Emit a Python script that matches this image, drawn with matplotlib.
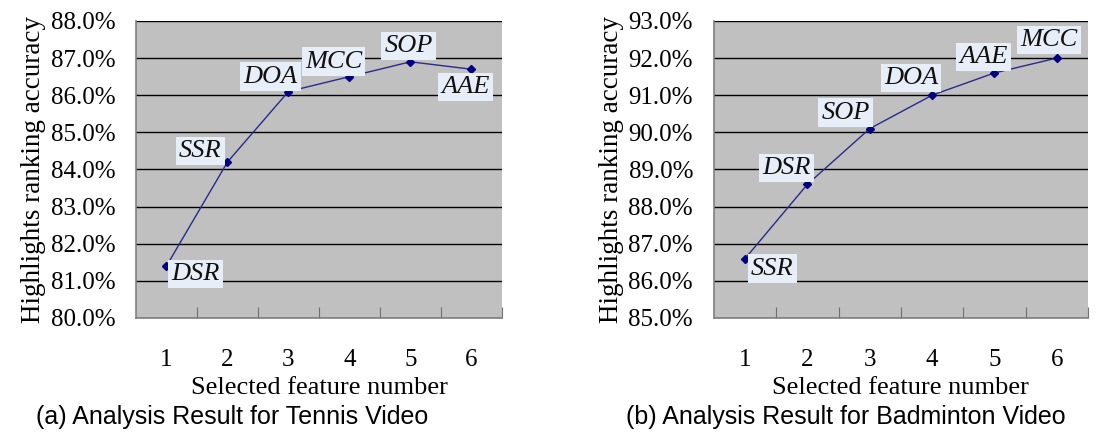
import numpy as np
import matplotlib
matplotlib.use('Agg')
import matplotlib.pyplot as plt
from matplotlib.ticker import FuncFormatter

# Дані
features = [1, 2, 3, 4, 5, 6]

tennis_acc = [81.4, 84.2, 86.1, 86.5, 86.9, 86.7]
tennis_names = ['DSR', 'SSR', 'DOA', 'MCC', 'SOP', 'AAE']
# зсув підписів (в пікселях) відносно точок
tennis_offsets = [(29, -8), (-27, 11), (-18, 15), (-16, 15), (-2, 16), (-6, -18)]

badminton_acc = [86.6, 88.6, 90.1, 91.0, 91.6, 92.0]
badminton_names = ['SSR', 'DSR', 'SOP', 'DOA', 'AAE', 'MCC']
badminton_offsets = [(27, -10), (-21, 16), (-24, 16), (-21, 17), (-11, 16), (-8, 18)]

serif = 'Liberation Serif'
sans = 'Liberation Sans'
px = 72 / 100  # пікселі -> точки


def draw_panel(ax, acc, names, offsets, ylo, yhi):
    ax.set_facecolor('#c0c0c0')
    ax.plot(features, acc, color='#2a2a8a', linewidth=1.0, marker='D',
            markersize=4.5, markerfacecolor='#000080', markeredgecolor='#000080',
            zorder=3)
    for x, y, name, (dx, dy) in zip(features, acc, names, offsets):
        ax.annotate(name, (x, y), xytext=(dx * px, dy * px), textcoords='offset points',
                    ha='center', va='center', fontsize=19, fontstyle='italic',
                    family=serif, color='#111111',
                    bbox=dict(boxstyle='square,pad=0.12', facecolor='#e8eef8',
                              edgecolor='none'), zorder=4)

    ax.set_xlim(features[0] - 0.5, features[-1] + 0.5)
    ax.set_ylim(ylo, yhi)
    ax.set_yticks(np.arange(ylo, yhi + 0.5, 1.0))
    ax.yaxis.set_major_formatter(FuncFormatter(lambda v, p: f'{v:.1f}%'))
    ax.tick_params(axis='y', length=0, pad=15, labelsize=18)
    for lab in ax.get_yticklabels():
        lab.set_family(serif)

    # мітки між категоріями, підписи по центру
    ax.set_xticks([f + 0.5 for f in features])
    ax.set_xticklabels([])
    ax.set_xticks(features, minor=True)
    ax.set_xticklabels([str(f) for f in features], minor=True, family=serif, fontsize=18)
    ax.tick_params(axis='x', which='major', direction='in', length=8, color='#707070')
    ax.tick_params(axis='x', which='minor', length=0, pad=22)

    ax.yaxis.grid(True, color='black', linewidth=1.0)
    ax.set_axisbelow(True)
    for s in ['top', 'right']:
        ax.spines[s].set_visible(False)
    for s in ['left', 'bottom']:
        ax.spines[s].set_color('#808080')
        ax.spines[s].set_linewidth(1.2)

    ax.set_xlabel('Selected feature number', family=serif, fontsize=19, labelpad=5)
    ax.set_ylabel('Highlights ranking accuracy', family=serif, fontsize=19.5, labelpad=3)


fig = plt.figure(figsize=(11, 4.33), dpi=100)
ax1 = fig.add_axes([0.1236, 0.2656, 0.3327, 0.686])
ax2 = fig.add_axes([0.649, 0.2656, 0.340, 0.686])

draw_panel(ax1, tennis_acc, tennis_names, tennis_offsets, 80.0, 88.0)
draw_panel(ax2, badminton_acc, badminton_names, badminton_offsets, 85.0, 93.0)

fig.text(0.211, 0.037, '(a) Analysis Result for Tennis Video', ha='center', va='center',
         family=sans, fontsize=18)
fig.text(0.769, 0.037, '(b) Analysis Result for Badminton Video', ha='center', va='center',
         family=sans, fontsize=18)

fig.savefig('out.png', dpi=100)
